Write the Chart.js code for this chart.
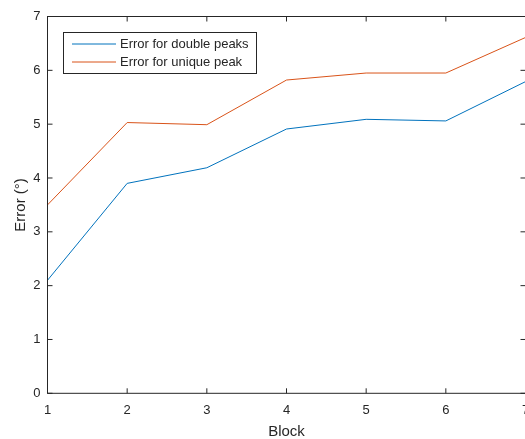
<!DOCTYPE html>
<html>
<head>
<meta charset="utf-8">
<script src="https://cdn.jsdelivr.net/npm/chart.js@4.4.1/dist/chart.umd.min.js"></script>
<style>
  html, body { margin: 0; padding: 0; background: #fff; overflow: hidden; }
  #wrap { width: 528px; height: 439px; }
</style>
</head>
<body>
<div id="wrap"><canvas id="errorChart" width="528" height="439"></canvas></div>
<script>
// block numbers and mean errors per block
const blocks = [1, 2, 3, 4, 5, 6, 7];
const doublePeakError = [2.1, 3.9, 4.19, 4.91, 5.09, 5.06, 5.79];
const uniquePeakError = [3.5, 5.03, 4.99, 5.82, 5.95, 5.95, 6.61];
const yTicks = [0, 1, 2, 3, 4, 5, 6, 7];

const seriesNames = ["Error for double peaks", "Error for unique peak"];
const seriesColors = ["#0072BD", "#D95319"];
const axisColor = "#262626";
const fontFamily = "'Liberation Sans', Arial, Helvetica, sans-serif";

function toPoints(values) {
  return blocks.map((b, i) => ({ x: b, y: values[i] }));
}

// box around the axes with inward tick marks on all four sides
const framePlugin = {
  id: "frame",
  afterDraw(chart) {
    const ctx = chart.ctx;
    const { left, right, top, bottom } = chart.chartArea;
    const xs = chart.scales.x;
    const ys = chart.scales.y;
    const len = 5;
    ctx.save();
    ctx.strokeStyle = axisColor;
    ctx.lineWidth = 1;
    ctx.strokeRect(left, top, right - left, bottom - top);
    ctx.beginPath();
    blocks.forEach((b) => {
      const px = xs.getPixelForValue(b);
      ctx.moveTo(px, bottom);
      ctx.lineTo(px, bottom - len);
      ctx.moveTo(px, top);
      ctx.lineTo(px, top + len);
    });
    yTicks.forEach((t) => {
      const py = ys.getPixelForValue(t);
      ctx.moveTo(left, py);
      ctx.lineTo(left + len, py);
      ctx.moveTo(right, py);
      ctx.lineTo(right - len, py);
    });
    ctx.stroke();
    ctx.restore();
  },
};

// boxed legend in the upper left of the plot
const boxLegendPlugin = {
  id: "boxLegend",
  afterDraw(chart) {
    const ctx = chart.ctx;
    const bx = 63.5, by = 32.5, bw = 193, bh = 41;
    ctx.save();
    ctx.fillStyle = "#fff";
    ctx.fillRect(bx, by, bw, bh);
    ctx.strokeStyle = axisColor;
    ctx.lineWidth = 1;
    ctx.strokeRect(bx, by, bw, bh);
    ctx.font = "13px " + fontFamily;
    ctx.textBaseline = "middle";
    ctx.textAlign = "left";
    seriesNames.forEach((name, i) => {
      const y = 44 + i * 18;
      ctx.strokeStyle = seriesColors[i];
      ctx.beginPath();
      ctx.moveTo(72, y);
      ctx.lineTo(116, y);
      ctx.stroke();
      ctx.fillStyle = axisColor;
      ctx.fillText(name, 120, y);
    });
    ctx.restore();
  },
};

const ctx = document.getElementById("errorChart").getContext("2d");
new Chart(ctx, {
  type: "line",
  data: {
    datasets: [
      {
        label: seriesNames[0],
        data: toPoints(doublePeakError),
        borderColor: seriesColors[0],
        borderWidth: 1,
        pointRadius: 0,
        tension: 0,
        fill: false,
      },
      {
        label: seriesNames[1],
        data: toPoints(uniquePeakError),
        borderColor: seriesColors[1],
        borderWidth: 1,
        pointRadius: 0,
        tension: 0,
        fill: false,
      },
    ],
  },
  options: {
    responsive: false,
    animation: false,
    layout: { padding: { left: 0, top: 16.5, right: 2.5, bottom: 0 } },
    plugins: {
      legend: { display: false },
      tooltip: { enabled: false },
    },
    scales: {
      x: {
        type: "linear",
        min: 1,
        max: 7,
        afterFit(scale) {
          scale.height = 45.7;
          scale.paddingLeft = 0;
          scale.paddingRight = 0;
        },
        afterBuildTicks(scale) { scale.ticks = blocks.map((v) => ({ value: v })); },
        grid: { display: false, drawTicks: false },
        border: { display: false },
        ticks: {
          color: axisColor,
          font: { family: fontFamily, size: 13 },
          padding: 9,
          maxRotation: 0,
        },
        title: {
          display: true,
          text: "Block",
          color: axisColor,
          font: { family: fontFamily, size: 15, lineHeight: 1 },
          padding: { top: 0, bottom: 0 },
        },
      },
      y: {
        min: 0,
        max: 7,
        afterFit(scale) {
          scale.width = 47.5;
          scale.paddingTop = 0;
          scale.paddingBottom = 0;
        },
        afterBuildTicks(scale) { scale.ticks = yTicks.map((v) => ({ value: v })); },
        grid: { display: false, drawTicks: false },
        border: { display: false },
        ticks: {
          color: axisColor,
          font: { family: fontFamily, size: 13 },
          padding: 7,
        },
        title: {
          display: true,
          text: "Error (°)",
          color: axisColor,
          font: { family: fontFamily, size: 15, lineHeight: 1 },
          padding: { top: 13, bottom: 0 },
        },
      },
    },
  },
  plugins: [framePlugin, boxLegendPlugin],
});
</script>
</body>
</html>
